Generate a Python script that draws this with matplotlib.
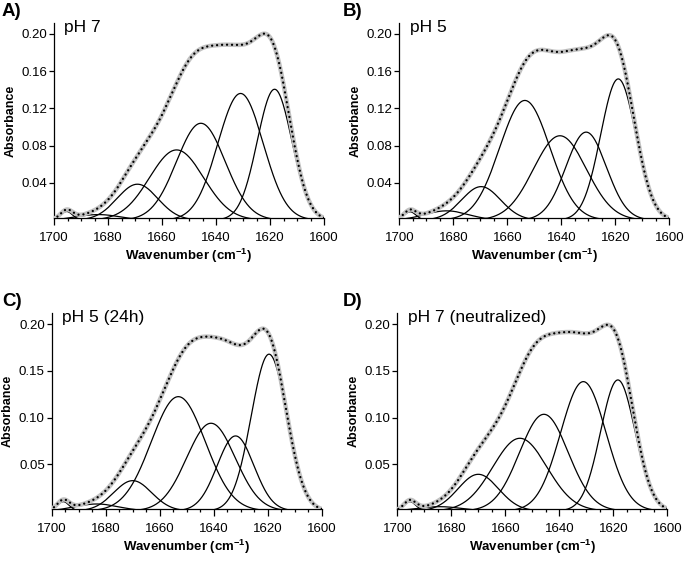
import numpy as np
import matplotlib
matplotlib.use("Agg")
import matplotlib.pyplot as plt
from matplotlib.ticker import MultipleLocator

plt.rcParams['font.family'] = 'Liberation Sans'
plt.rcParams['mathtext.fontset'] = 'custom'
plt.rcParams['mathtext.rm'] = 'Liberation Sans'
plt.rcParams['mathtext.bf'] = 'Liberation Sans:bold'

# fitted amide I components: band centre (cm-1), height (abs), width sigma (cm-1)
centers_a = [1695.3, 1683.6, 1669.1, 1654.6, 1645.6, 1630.9, 1618.3]
heights_a = [0.0093, 0.0060, 0.0386, 0.0754, 0.1040, 0.1360, 0.1405]
sigmas_a = [2.2, 8.0, 7.5, 10.0, 9.0, 8.4, 6.4]

centers_b = [1696.0, 1682.5, 1669.7, 1653.5, 1640.5, 1630.8, 1618.9]
heights_b = [0.0090, 0.0100, 0.0360, 0.1285, 0.0906, 0.0945, 0.1516]
sigmas_b = [2.2, 8.0, 7.2, 9.3, 9.8, 7.5, 6.5]

centers_c = [1695.7, 1683.3, 1670.0, 1653.1, 1641.0, 1631.9, 1619.5]
heights_c = [0.0100, 0.0075, 0.0325, 0.1225, 0.0940, 0.0804, 0.1680]
sigmas_c = [2.2, 8.0, 7.0, 10.0, 9.0, 6.8, 6.6]

centers_d = [1695.3, 1684.2, 1670.0, 1654.6, 1645.7, 1631.1, 1618.3]
heights_d = [0.0100, 0.0046, 0.0393, 0.0779, 0.1036, 0.1386, 0.1404]
sigmas_d = [2.2, 8.0, 7.5, 10.0, 9.0, 8.4, 6.4]

panel_letters = ['A)', 'B)', 'C)', 'D)']
panel_titles = ['pH 7', 'pH 5', 'pH 5 (24h)', 'pH 7 (neutralized)']
yticks_top = [0.04, 0.08, 0.12, 0.16, 0.20]
yticks_bottom = [0.05, 0.10, 0.15, 0.20]


def gauss(x, c, h, s):
    return h * np.exp(-(x - c) ** 2 / (2 * s ** 2))


fig = plt.figure(figsize=(6.85, 5.61), dpi=100)
W, H = 685.0, 561.0

# axes boxes in pixels: left, top, right, bottom
boxes = [(54, 23.3, 324, 218.3), (399.3, 23.3, 669.3, 218.3),
         (51.7, 313.3, 321.7, 509.3), (397.3, 313.3, 667.3, 509.3)]
letter_pos = [(2, 3), (343, 3), (2, 293), (343, 293)]

data = [(centers_a, heights_a, sigmas_a), (centers_b, heights_b, sigmas_b),
        (centers_c, heights_c, sigmas_c), (centers_d, heights_d, sigmas_d)]

x = np.linspace(1600, 1700, 801)

for i in range(4):
    l, t, r, b = boxes[i]
    ax = fig.add_axes([l / W, 1 - b / H, (r - l) / W, (b - t) / H])
    centers, heights, sigmas = data[i]
    total = np.zeros_like(x)
    for c, h, s in zip(centers, heights, sigmas):
        y = gauss(x, c, h, s)
        total += y
        ax.plot(x, y, color='black', lw=0.9, zorder=2)
    # measured spectrum (grey) and fitted sum (dotted)
    ax.plot(x, total, color='#c2c2c2', lw=3.2, zorder=3, solid_capstyle='round')
    ax.plot(x, total, color='black', lw=1.7, zorder=4,
            linestyle=(0, (0.01, 2.1)), dash_capstyle='round')

    ax.set_xlim(1700, 1600)
    ax.xaxis.set_major_locator(MultipleLocator(20))
    ax.xaxis.set_minor_locator(MultipleLocator(5))
    if i < 2:
        ax.set_ylim(0.002, 0.2113)
        ax.set_yticks(yticks_top)
        ax.set_yticklabels(['%.2f' % v for v in yticks_top])
    else:
        ax.set_ylim(0.0018, 0.2118)
        ax.set_yticks(yticks_bottom)
        ax.set_yticklabels(['%.2f' % v for v in yticks_bottom])

    for sp in ['top', 'right']:
        ax.spines[sp].set_visible(False)
    for sp in ['left', 'bottom']:
        ax.spines[sp].set_linewidth(0.9)
    ax.tick_params(axis='x', which='major', direction='out', length=5, width=0.9,
                   labelsize=9.5, pad=5)
    ax.tick_params(axis='x', which='minor', direction='out', length=2.5, width=0.9)
    ax.tick_params(axis='y', which='major', direction='out', length=3.5, width=0.9,
                   labelsize=9.5, pad=1.5)

    ax.set_xlabel(r'Wavenumber (cm$^{\mathbf{-1}}$)', fontsize=9.5, fontweight='bold')
    ax.set_ylabel('Absorbance', fontsize=9, fontweight='bold')
    ax.xaxis.set_label_coords(0.5, -0.145)
    ax.yaxis.set_label_coords(-0.14, 0.5)

    ax.text(0.038, 0.955, panel_titles[i], transform=ax.transAxes, fontsize=12.5,
            va='baseline', ha='left')
    lx, ly = letter_pos[i]
    fig.text(lx / W, 1 - ly / H, panel_letters[i], fontsize=13.5, fontweight='bold',
             va='top', ha='left')

fig.savefig('out.png', dpi=100)
